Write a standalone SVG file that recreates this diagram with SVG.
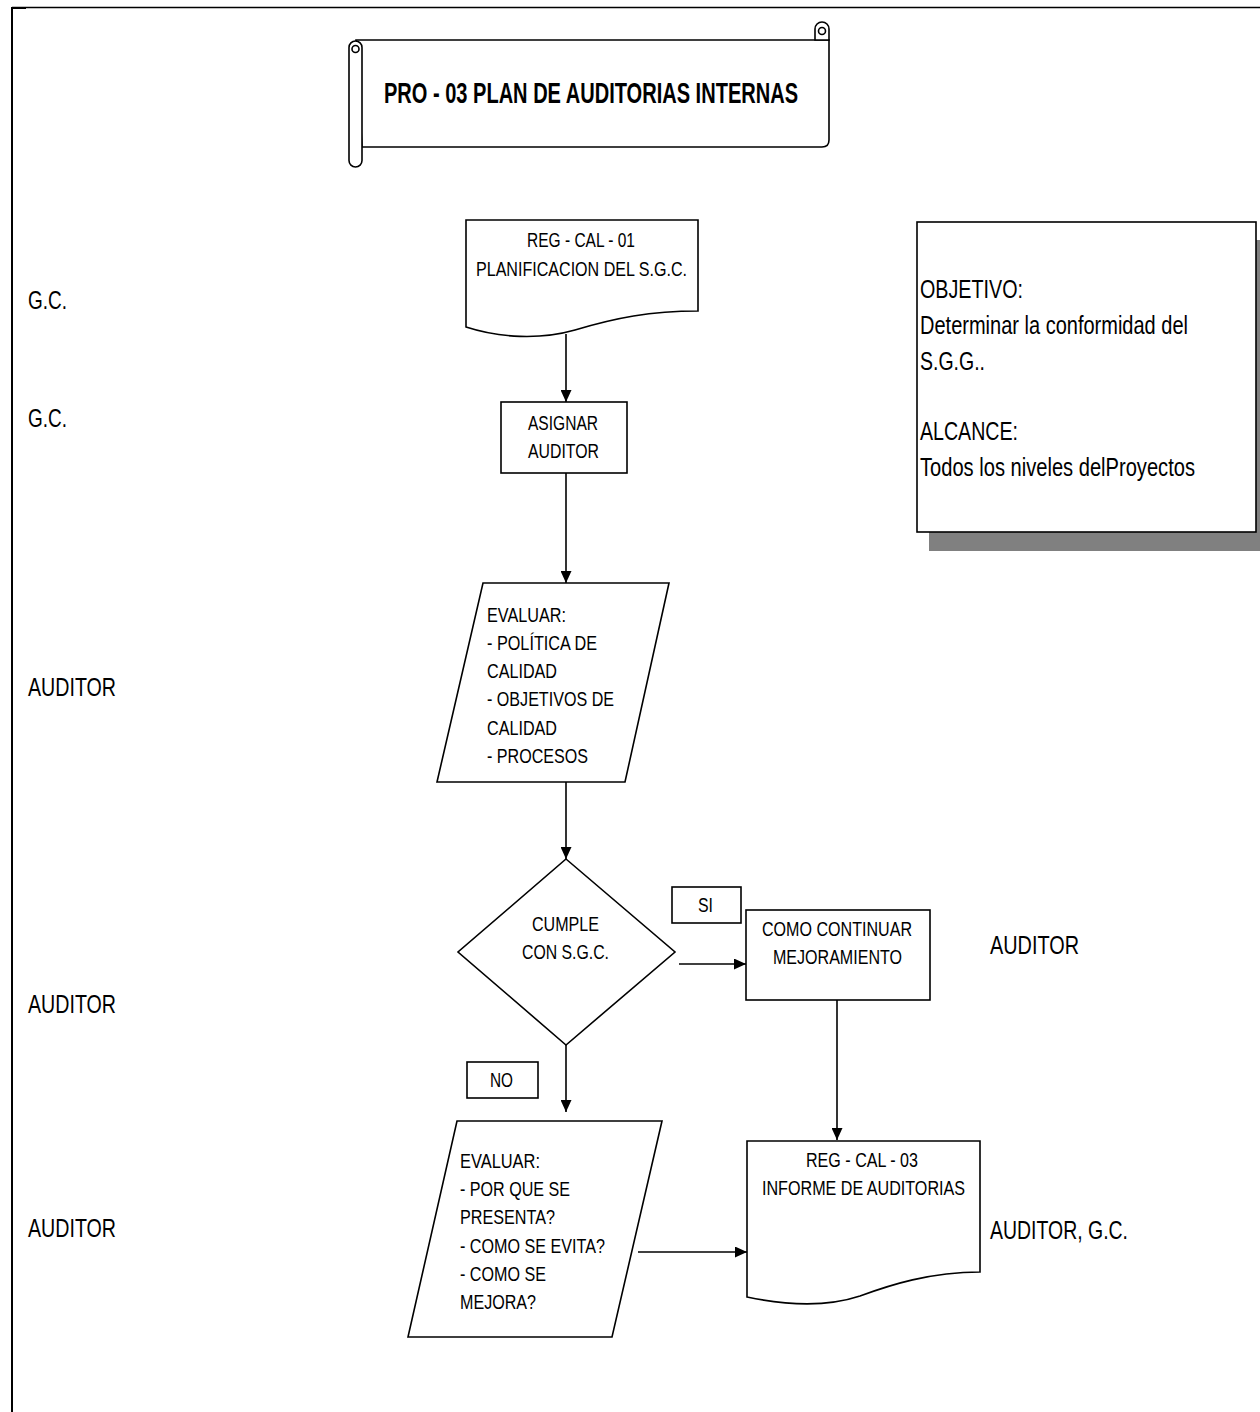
<svg xmlns="http://www.w3.org/2000/svg" width="1260" height="1412" viewBox="0 0 1260 1412">
<style>
.s{fill:#fff;stroke:#000;stroke-width:1.6}
.c{fill:none;stroke:#000;stroke-width:1.6}
.t{font-family:"Liberation Sans Narrow","Liberation Sans",Arial,sans-serif;font-size:20.5px;fill:#000}
.l{font-family:"Liberation Sans Narrow","Liberation Sans",Arial,sans-serif;font-size:25px;fill:#000}
.h{font-family:"Liberation Sans Narrow","Liberation Sans",Arial,sans-serif;font-size:30px;font-weight:bold;fill:#000}
</style>
<defs>
<marker id="ah" markerUnits="userSpaceOnUse" markerWidth="12" markerHeight="11" refX="12" refY="5.5" orient="auto">
<path d="M0,0 L12,5.5 L0,11 z" fill="#000"/>
</marker>
</defs>
<rect width="1260" height="1412" fill="#fff"/>
<g id="frame">
<line x1="12" y1="7.5" x2="1260" y2="7.5" stroke="#000" stroke-width="1.5"/>
<line x1="12" y1="7" x2="12" y2="1412" stroke="#000" stroke-width="2"/>
<rect x="11" y="7" width="15" height="2" fill="#000"/>
</g>
<g id="title">
<path class="s" d="M356,40 H829 V140 Q829,147 822,147 H362 Z"/>
<path class="s" d="M815,40 V29 A7,7 0 0 1 829,29 V40 Z"/>
<circle class="c" cx="822" cy="31" r="3.5"/>
<rect class="s" x="349" y="41" width="13" height="126" rx="6.5"/>
<circle class="c" cx="355.5" cy="49" r="3.5"/>
<text class="h" x="384" y="103" textLength="414" lengthAdjust="spacingAndGlyphs">PRO - 03 PLAN DE AUDITORIAS INTERNAS</text>
</g>
<g id="objetivo">
<rect x="929" y="240" width="340" height="311" fill="#808080"/>
<rect class="s" x="917" y="222" width="339" height="310"/>
<text class="l" x="920" y="298" textLength="103" lengthAdjust="spacingAndGlyphs">OBJETIVO:</text>
<text class="l" x="920" y="334" textLength="268" lengthAdjust="spacingAndGlyphs">Determinar la conformidad del</text>
<text class="l" x="920" y="370" textLength="65" lengthAdjust="spacingAndGlyphs">S.G.G..</text>
<text class="l" x="920" y="440" textLength="98" lengthAdjust="spacingAndGlyphs">ALCANCE:</text>
<text class="l" x="920" y="476" textLength="275" lengthAdjust="spacingAndGlyphs">Todos los niveles delProyectos</text>
</g>
<g id="roles">
<text class="l" x="28" y="309" textLength="39" lengthAdjust="spacingAndGlyphs">G.C.</text>
<text class="l" x="28" y="427" textLength="39" lengthAdjust="spacingAndGlyphs">G.C.</text>
<text class="l" x="28" y="696" textLength="88" lengthAdjust="spacingAndGlyphs">AUDITOR</text>
<text class="l" x="28" y="1013" textLength="88" lengthAdjust="spacingAndGlyphs">AUDITOR</text>
<text class="l" x="28" y="1237" textLength="88" lengthAdjust="spacingAndGlyphs">AUDITOR</text>
<text class="l" x="990" y="954" textLength="89" lengthAdjust="spacingAndGlyphs">AUDITOR</text>
<text class="l" x="990" y="1239" textLength="138" lengthAdjust="spacingAndGlyphs">AUDITOR, G.C.</text>
</g>
<g id="doc1">
<path class="s" d="M466,220 H698 V311 C650,311 615,318 575,330 C540,340 500,338 466,327 Z"/>
<text class="t" x="527" y="247" textLength="108" lengthAdjust="spacingAndGlyphs">REG - CAL - 01</text>
<text class="t" x="476" y="276" textLength="211" lengthAdjust="spacingAndGlyphs">PLANIFICACION DEL S.G.C.</text>
</g>
<g id="asignar">
<rect class="s" x="501" y="402" width="126" height="71"/>
<text class="t" x="528" y="430" textLength="70" lengthAdjust="spacingAndGlyphs">ASIGNAR</text>
<text class="t" x="528" y="458" textLength="71" lengthAdjust="spacingAndGlyphs">AUDITOR</text>
</g>
<g id="evaluar1">
<path class="s" d="M483,583 H669 L625,782 H437 Z"/>
<text class="t" x="487" y="622" textLength="79" lengthAdjust="spacingAndGlyphs">EVALUAR:</text>
<text class="t" x="487" y="650" textLength="110" lengthAdjust="spacingAndGlyphs">- POLÍTICA DE</text>
<text class="t" x="487" y="678" textLength="70" lengthAdjust="spacingAndGlyphs">CALIDAD</text>
<text class="t" x="487" y="706" textLength="127" lengthAdjust="spacingAndGlyphs">- OBJETIVOS DE</text>
<text class="t" x="487" y="735" textLength="70" lengthAdjust="spacingAndGlyphs">CALIDAD</text>
<text class="t" x="487" y="763" textLength="101" lengthAdjust="spacingAndGlyphs">- PROCESOS</text>
</g>
<g id="cumple">
<path class="s" d="M566,859 L675,952 L566,1045 L458,952 Z"/>
<text class="t" x="532" y="931" textLength="67" lengthAdjust="spacingAndGlyphs">CUMPLE</text>
<text class="t" x="522" y="959" textLength="87" lengthAdjust="spacingAndGlyphs">CON S.G.C.</text>
</g>
<g id="si">
<rect class="s" x="672" y="887" width="69" height="36"/>
<text class="t" x="698" y="912" textLength="15" lengthAdjust="spacingAndGlyphs">SI</text>
</g>
<g id="no">
<rect class="s" x="467" y="1062" width="71" height="36"/>
<text class="t" x="490" y="1087" textLength="23" lengthAdjust="spacingAndGlyphs">NO</text>
</g>
<g id="continuar">
<rect class="s" x="746" y="910" width="184" height="90"/>
<text class="t" x="762" y="936" textLength="150" lengthAdjust="spacingAndGlyphs">COMO CONTINUAR</text>
<text class="t" x="773" y="964" textLength="129" lengthAdjust="spacingAndGlyphs">MEJORAMIENTO</text>
</g>
<g id="evaluar2">
<path class="s" d="M457,1121 H662 L612,1337 H408 Z"/>
<text class="t" x="460" y="1168" textLength="80" lengthAdjust="spacingAndGlyphs">EVALUAR:</text>
<text class="t" x="460" y="1196" textLength="110" lengthAdjust="spacingAndGlyphs">- POR QUE SE</text>
<text class="t" x="460" y="1224" textLength="95" lengthAdjust="spacingAndGlyphs">PRESENTA?</text>
<text class="t" x="460" y="1253" textLength="145" lengthAdjust="spacingAndGlyphs">- COMO SE EVITA?</text>
<text class="t" x="460" y="1281" textLength="86" lengthAdjust="spacingAndGlyphs">- COMO SE</text>
<text class="t" x="460" y="1309" textLength="76" lengthAdjust="spacingAndGlyphs">MEJORA?</text>
</g>
<g id="doc2">
<path class="s" d="M747,1141 H980 V1272 C930,1272 890,1285 860,1296 C830,1306 790,1306 747,1297 Z"/>
<text class="t" x="806" y="1167" textLength="112" lengthAdjust="spacingAndGlyphs">REG - CAL - 03</text>
<text class="t" x="762" y="1195" textLength="203" lengthAdjust="spacingAndGlyphs">INFORME DE AUDITORIAS</text>
</g>
<g id="connectors">
<line class="c" x1="566" y1="334" x2="566" y2="402" marker-end="url(#ah)"/>
<line class="c" x1="566" y1="473" x2="566" y2="583" marker-end="url(#ah)"/>
<line class="c" x1="566" y1="782" x2="566" y2="859" marker-end="url(#ah)"/>
<line class="c" x1="679" y1="964" x2="746" y2="964" marker-end="url(#ah)"/>
<line class="c" x1="837" y1="1000" x2="837" y2="1140" marker-end="url(#ah)"/>
<line class="c" x1="566" y1="1045" x2="566" y2="1112" marker-end="url(#ah)"/>
<line class="c" x1="638" y1="1252" x2="747" y2="1252" marker-end="url(#ah)"/>
</g>
</svg>
